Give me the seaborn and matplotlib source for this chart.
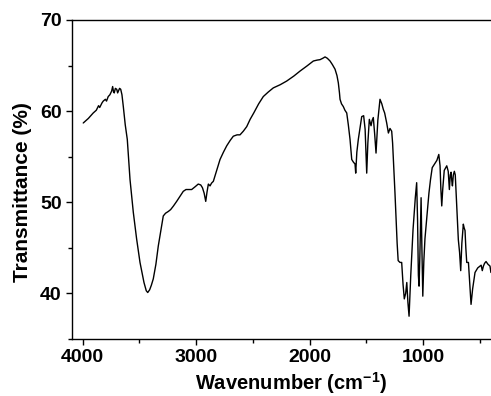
import matplotlib
matplotlib.use("Agg")
import matplotlib.pyplot as plt
from matplotlib.ticker import MultipleLocator
import seaborn as sns
import pandas as pd

wavenumber = [
    3995, 3950, 3907, 3880, 3860, 3850, 3830, 3819, 3800, 3790, 3775, 3760, 3745,
    3736, 3728, 3722, 3712, 3700, 3692, 3685, 3675, 3665, 3654, 3642, 3625, 3607,
    3583, 3554, 3525, 3495, 3460, 3440, 3427, 3410, 3395, 3378, 3355, 3334, 3310,
    3290, 3270, 3245, 3225, 3200, 3172, 3140, 3114, 3090, 3070, 3040, 3010, 2982,
    2960, 2945, 2930, 2916, 2905, 2893, 2878, 2865, 2849, 2820, 2790, 2760, 2731,
    2700, 2673, 2640, 2614, 2585, 2555, 2525, 2493, 2450, 2409, 2365, 2321, 2260,
    2203, 2140, 2085, 2025, 1968, 1935, 1909, 1885, 1865, 1845, 1821, 1800, 1777,
    1760, 1748, 1738, 1733, 1720, 1704, 1690, 1674, 1660, 1645, 1630, 1615, 1601,
    1595, 1585, 1572, 1555, 1542, 1525, 1512, 1498, 1488, 1475, 1460, 1450, 1440,
    1428, 1416, 1400, 1381, 1365, 1352, 1340, 1322, 1307, 1293, 1278, 1270, 1249,
    1230, 1221, 1205, 1190, 1178, 1167, 1155, 1145, 1135, 1125, 1110, 1090, 1070,
    1058, 1050, 1043, 1037, 1030, 1019, 1012, 1004, 995, 985, 965, 950, 936, 921,
    900, 880, 863, 852, 845, 837, 828, 815, 793, 780, 770, 762, 755, 748, 743, 735,
    726, 718, 705, 691, 680, 670, 660, 647, 640, 632, 625, 617, 602, 590, 579, 565,
    544, 520, 500, 490, 480, 470, 460, 447, 430, 412, 404,
]
transmittance = [
    58.7, 59.2, 59.8, 60.1, 60.6, 60.4, 60.9, 61.1, 61.3, 61.1, 61.6, 61.8, 62.2,
    62.7, 62.1, 62.0, 62.5, 62.4, 62.0, 62.2, 62.5, 62.4, 61.8, 60.5, 58.5, 56.9,
    52.5, 48.9, 46.0, 43.4, 41.2, 40.3, 40.1, 40.4, 40.9, 41.6, 43.2, 45.2, 47.0,
    48.5, 48.8, 49.0, 49.2, 49.6, 50.1, 50.7, 51.2, 51.4, 51.4, 51.4, 51.7, 52.0,
    51.9, 51.6, 51.0, 50.1, 51.1, 52.0, 51.8, 52.1, 52.3, 53.5, 54.7, 55.5, 56.2,
    56.8, 57.25, 57.4, 57.4, 57.8, 58.3, 59.1, 59.8, 60.8, 61.6, 62.1, 62.55, 62.9,
    63.3, 63.85, 64.4, 64.95, 65.5, 65.6, 65.65, 65.8, 65.95, 65.8, 65.5, 65.1, 64.6,
    63.9, 63.1, 62.0, 61.3, 60.8, 60.5, 60.1, 59.8, 58.5, 56.9, 54.7, 54.4, 54.2,
    53.2, 55.5, 56.9, 58.3, 59.4, 59.5, 58.0, 53.2, 56.5, 59.1, 58.4, 59.0, 59.3,
    57.5, 55.4, 59.0, 61.3, 60.8, 60.2, 59.8, 58.7, 57.6, 58.1, 57.8, 56.5, 51.0,
    45.5, 43.6, 43.4, 43.4, 41.0, 39.4, 40.0, 41.2, 39.0, 37.5, 42.0, 47.0, 50.5,
    52.15, 48.0, 42.0, 40.8, 44.0, 50.5, 45.0, 39.7, 43.5, 46.0, 48.9, 51.0, 52.5, 53.8,
    54.2, 54.6, 55.25, 54.0, 51.5, 49.6, 51.5, 53.5, 54.0, 53.4, 51.4, 53.0, 53.3, 52.3, 51.8, 53.0,
    53.4, 53.0, 49.5, 45.9, 44.5, 42.5, 45.5, 47.6, 47.2, 46.9, 45.0, 43.4, 43.4, 41.0, 38.8, 40.5,
    42.3, 42.8, 43.0, 43.1, 42.5, 43.0, 43.3, 43.5, 43.2, 43.0, 42.3,
]

x_ticks = [4000, 3000, 2000, 1000]
y_ticks = [40, 50, 60, 70]

sns.set_style("ticks")
plt.rcParams["font.family"] = ["Liberation Sans", "DejaVu Sans"]
plt.rcParams["font.weight"] = "bold"
plt.rcParams["text.color"] = "black"
plt.rcParams["axes.labelcolor"] = "black"
plt.rcParams["xtick.color"] = "black"
plt.rcParams["ytick.color"] = "black"
plt.rcParams["mathtext.fontset"] = "custom"
plt.rcParams["mathtext.rm"] = "Liberation Sans:bold"
plt.rcParams["mathtext.bf"] = "Liberation Sans:bold"

df = pd.DataFrame({"wn": wavenumber, "T": transmittance})

fig = plt.figure(figsize=(4.91, 3.96), dpi=100)
ax = fig.add_axes([72 / 491, 57 / 396, 423 / 491, 319 / 396])
sns.lineplot(data=df, x="wn", y="T", ax=ax, color="black", linewidth=1.0,
             estimator=None, sort=False)

ax.set_xlim(4094, 368)
ax.set_ylim(35, 70)
ax.set_xticks(x_ticks)
ax.set_yticks(y_ticks)
ax.xaxis.set_minor_locator(MultipleLocator(500))
ax.yaxis.set_minor_locator(MultipleLocator(5))
ax.tick_params(which="major", direction="out", length=4.3, width=1.0, pad=3,
               labelsize=14, colors="black")
ax.tick_params(which="minor", direction="out", length=2.8, width=1.0)
for lbl in ax.get_xticklabels() + ax.get_yticklabels():
    lbl.set_fontweight("bold")

for s in ["left", "bottom", "top"]:
    ax.spines[s].set_visible(True)
    ax.spines[s].set_linewidth(1.0)
    ax.spines[s].set_color("black")
ax.spines["right"].set_visible(False)

ax.set_xlabel(r"Wavenumber (cm$^{\mathbf{-1}}$)", fontsize=14.5, fontweight="bold",
              color="black")
ax.set_ylabel("Transmittance (%)", fontsize=15, fontweight="bold", color="black")
ax.xaxis.set_label_coords(0.518, -0.097)
ax.yaxis.set_label_coords(-0.095, 0.46)

fig.savefig("out.png", dpi=100)
